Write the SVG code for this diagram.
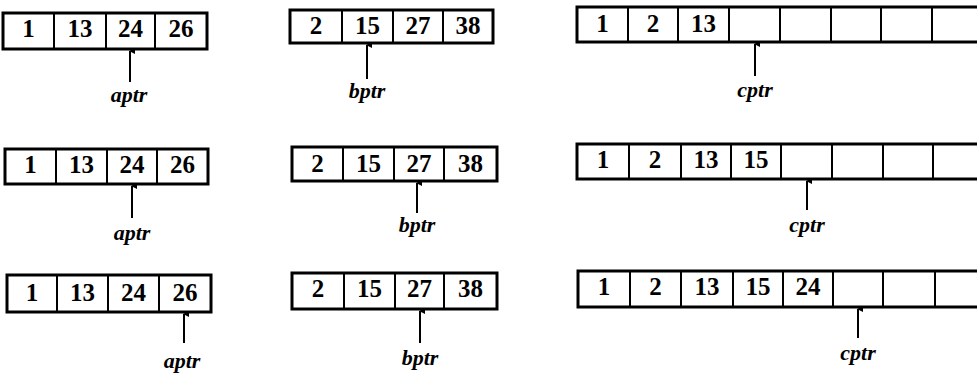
<svg xmlns="http://www.w3.org/2000/svg" width="977" height="374" viewBox="0 0 977 374">
<style>
.box{fill:#fff;stroke:#000;stroke-width:3}
.div{stroke:#000;stroke-width:2}
.num{font-family:"Liberation Serif",serif;font-size:25px;font-weight:bold;text-anchor:middle;fill:#000}
.lbl{font-family:"Liberation Serif",serif;font-size:22px;font-style:italic;font-weight:bold;text-anchor:middle;fill:#000}
.ptr{stroke:#000;stroke-width:2;fill:none}
</style>
<defs>
<marker id="tip" viewBox="0 0 6 6" refX="3" refY="1" markerWidth="3" markerHeight="3" orient="auto-start-reverse" markerUnits="strokeWidth">
<path d="M0,6 L3,0 L6,6 Z" fill="#000"/>
</marker>
</defs>
<rect width="977" height="374" fill="#fff"/>

<!-- Row 1 -->
<g id="a1">
<rect class="box" x="3" y="13" width="204" height="36"/>
<path class="div" d="M54,13V49M106,13V49M155,13V49"/>
<text class="num" x="28.5" y="37">1</text><text class="num" x="80" y="37">13</text><text class="num" x="130.5" y="37">24</text><text class="num" x="181" y="37">26</text>
</g>
<g id="b1">
<rect class="box" x="290" y="10" width="203" height="33"/>
<path class="div" d="M342,10V43M393,10V43M443,10V43"/>
<text class="num" x="316" y="34">2</text><text class="num" x="367.5" y="34">15</text><text class="num" x="418" y="34">27</text><text class="num" x="468" y="34">38</text>
</g>
<g id="c1">
<rect class="box" x="577" y="7" width="410" height="35"/>
<path class="div" d="M628,7V42M678,7V42M729,7V42M780,7V42M831,7V42M881,7V42M932,7V42"/>
<text class="num" x="602.5" y="32">1</text><text class="num" x="653" y="32">2</text><text class="num" x="703.5" y="32">13</text>
</g>

<!-- Row 2 -->
<g id="a2">
<rect class="box" x="5" y="149" width="203" height="35"/>
<path class="div" d="M56,149V184M107,149V184M157,149V184"/>
<text class="num" x="30.5" y="173">1</text><text class="num" x="81.5" y="173">13</text><text class="num" x="132" y="173">24</text><text class="num" x="182.5" y="173">26</text>
</g>
<g id="b2">
<rect class="box" x="292" y="147" width="205" height="34"/>
<path class="div" d="M343,147V181M394,147V181M444,147V181"/>
<text class="num" x="317.5" y="172">2</text><text class="num" x="368.5" y="172">15</text><text class="num" x="419" y="172">27</text><text class="num" x="470.5" y="172">38</text>
</g>
<g id="c2">
<rect class="box" x="577" y="144" width="410" height="35"/>
<path class="div" d="M629,144V179M681,144V179M731,144V179M781,144V179M832,144V179M883,144V179M933,144V179"/>
<text class="num" x="603" y="168">1</text><text class="num" x="655" y="168">2</text><text class="num" x="706" y="168">13</text><text class="num" x="756" y="168">15</text>
</g>

<!-- Row 3 -->
<g id="a3">
<rect class="box" x="7" y="275" width="204" height="37"/>
<path class="div" d="M57,275V312M108,275V312M159,275V312"/>
<text class="num" x="32" y="301">1</text><text class="num" x="82.5" y="301">13</text><text class="num" x="133.5" y="301">24</text><text class="num" x="185" y="301">26</text>
</g>
<g id="b3">
<rect class="box" x="292" y="273" width="205" height="36"/>
<path class="div" d="M344,273V309M395,273V309M444,273V309"/>
<text class="num" x="318" y="297">2</text><text class="num" x="369.5" y="297">15</text><text class="num" x="419.5" y="297">27</text><text class="num" x="470.5" y="297">38</text>
</g>
<g id="c3">
<rect class="box" x="578" y="271" width="410" height="36"/>
<path class="div" d="M630,271V307M681,271V307M733,271V307M783,271V307M833,271V307M883,271V307M935,271V307"/>
<text class="num" x="604" y="295">1</text><text class="num" x="655.5" y="295">2</text><text class="num" x="707" y="295">13</text><text class="num" x="758" y="295">15</text><text class="num" x="808" y="295">24</text>
</g>

<!-- Pointer labels -->
<g id="aptr1"><text class="lbl" x="129" y="102">aptr</text></g>
<g id="bptr1"><text class="lbl" x="367" y="98">bptr</text></g>
<g id="cptr1"><text class="lbl" x="755" y="97">cptr</text></g>
<g id="aptr2"><text class="lbl" x="132" y="240">aptr</text></g>
<g id="bptr2"><text class="lbl" x="417" y="232">bptr</text></g>
<g id="cptr2"><text class="lbl" x="807" y="232">cptr</text></g>
<g id="aptr3"><text class="lbl" x="182" y="368">aptr</text></g>
<g id="bptr3"><text class="lbl" x="420" y="365">bptr</text></g>
<g id="cptr3"><text class="lbl" x="858" y="360">cptr</text></g>

<!-- Connectors -->
<g id="connectors">
<path class="ptr" d="M130,82V51" marker-end="url(#tip)"/>
<path class="ptr" d="M367,79V45" marker-end="url(#tip)"/>
<path class="ptr" d="M755,76V44" marker-end="url(#tip)"/>
<path class="ptr" d="M132,218V186" marker-end="url(#tip)"/>
<path class="ptr" d="M417,213V183" marker-end="url(#tip)"/>
<path class="ptr" d="M807,210V181" marker-end="url(#tip)"/>
<path class="ptr" d="M184,343V314" marker-end="url(#tip)"/>
<path class="ptr" d="M420,343V311" marker-end="url(#tip)"/>
<path class="ptr" d="M858,338V309" marker-end="url(#tip)"/>
</g>
</svg>
